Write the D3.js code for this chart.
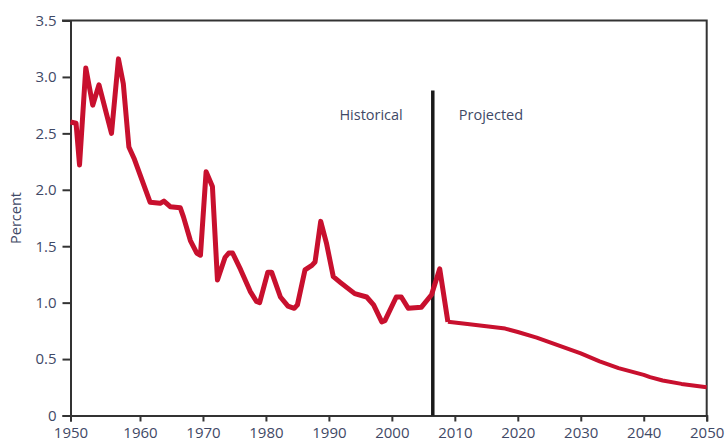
<!DOCTYPE html>
<meta charset="utf-8">
<script src="https://d3js.org/d3.v7.min.js"></script>
<style>
body {
  margin: 0;
  background: #fff;
  font-family: 'Open Sans', sans-serif;
}
.axis text {
  fill: #3f4966;
}
.axis .domain, .axis line {
  stroke: #333;
  stroke-width: 2;
}
</style>
<svg width="725" height="446"></svg>

<script>
// historical series (year, percent)
var histYears = [1950, 1950.8, 1951.3, 1952.2, 1953.2, 1954.1, 1955.9, 1956.9, 1957.6, 1958.4,
  1959.2, 1961.6, 1963.2, 1963.8, 1964.8, 1966.4, 1966.9, 1968.0, 1969.0, 1969.6,
  1970.5, 1971.5, 1972.3, 1973.5, 1974.1, 1974.7, 1976.0, 1977.5, 1978.5, 1979.0,
  1980.3, 1980.9, 1982.3, 1983.5, 1984.5, 1985.0, 1986.2, 1987.3, 1987.8, 1988.7,
  1989.6, 1990.7, 1991.8, 1994.1, 1996.0, 1997.1, 1998.4, 1998.9, 2000.7, 2001.5,
  2002.6, 2004.7, 2006.3, 2007.6, 2008.9];
var histValues = [2.60, 2.59, 2.22, 3.08, 2.75, 2.93, 2.50, 3.16, 2.94, 2.38,
  2.27, 1.89, 1.88, 1.90, 1.85, 1.84, 1.76, 1.55, 1.44, 1.42,
  2.16, 2.03, 1.20, 1.40, 1.44, 1.44, 1.29, 1.10, 1.01, 1.00,
  1.27, 1.27, 1.05, 0.97, 0.95, 0.98, 1.29, 1.33, 1.36, 1.72,
  1.53, 1.23, 1.18, 1.08, 1.05, 0.98, 0.83, 0.84, 1.05, 1.05,
  0.95, 0.96, 1.07, 1.30, 0.83];

// projected series
var projYears = [2008.9, 2012, 2015, 2018, 2020, 2023, 2026, 2030, 2033, 2036, 2040, 2041, 2043, 2046, 2050];
var projValues = [0.83, 0.81, 0.79, 0.77, 0.74, 0.69, 0.63, 0.55, 0.48, 0.42, 0.36, 0.34, 0.31, 0.28, 0.25];

// axis ticks
var xTicks = [1950, 1960, 1970, 1980, 1990, 2000, 2010, 2020, 2030, 2040, 2050];
var yTicks = [0, 0.5, 1.0, 1.5, 2.0, 2.5, 3.0, 3.5];

// divider between historical and projected
var dividerYear = 2006.5, dividerTop = 2.88;

var svg = d3.select("svg");

// the first decade is drawn a bit wider in the original
var x = d3.scaleLinear()
  .domain([1950, 1960, 2050])
  .range([70.5, 140, 706.7]);

var y = d3.scaleLinear()
  .domain([0, 3.5])
  .range([415.5, 20.5]);

var hist = histYears.map(function(d, i) { return [d, histValues[i]]; });
var proj = projYears.map(function(d, i) { return [d, projValues[i]]; });

var line = d3.line()
  .x(function(d) { return x(d[0]); })
  .y(function(d) { return y(d[1]); });

// frame top + right
svg.append("path")
  .attr("d", "M" + 62 + "," + y(3.5) + "H" + x(2050) + "V" + y(0))
  .attr("fill", "none")
  .attr("stroke", "#333")
  .attr("stroke-width", 2);

svg.append("g")	//x axis
  .attr("class", "axis")
  .attr("transform", "translate(0," + y(0) + ")")
  .call(d3.axisBottom(x).tickValues(xTicks).tickFormat(d3.format("d")).tickSizeOuter(0).tickSize(6).tickPadding(6))
  .attr("font-size", 15)
  .attr("font-family", "'Open Sans', sans-serif");

svg.append("g")	//y axis
  .attr("class", "axis")
  .attr("transform", "translate(" + x(1950) + ",0)")
  .call(d3.axisLeft(y).tickValues(yTicks).tickFormat(function(d) { return d === 0 ? "0" : d3.format(".1f")(d); }).tickSizeOuter(0).tickSize(8).tickPadding(6))
  .attr("font-size", 15)
  .attr("font-family", "'Open Sans', sans-serif");

// y label
svg.append("text")
  .attr("transform", "translate(21," + y(1.75) + ") rotate(-90)")
  .attr("text-anchor", "middle")
  .attr("fill", "#3f4966")
  .attr("font-size", 14.5)
  .text("Percent");

// divider
svg.append("line")
  .attr("x1", x(dividerYear)).attr("x2", x(dividerYear))
  .attr("y1", y(dividerTop)).attr("y2", y(0))
  .attr("stroke", "#1a1a1a")
  .attr("stroke-width", 3.5);

svg.append("text")
  .attr("x", x(dividerYear) - 30)
  .attr("y", 120)
  .attr("text-anchor", "end")
  .attr("fill", "#3f4966")
  .attr("font-size", 14.5)
  .text("Historical");

svg.append("text")
  .attr("x", x(dividerYear) + 26)
  .attr("y", 120)
  .attr("fill", "#3f4966")
  .attr("font-size", 14.5)
  .text("Projected");

// series lines
svg.append("path")
  .datum(hist)
  .attr("d", line)
  .attr("fill", "none")
  .attr("stroke", "#c8102e")
  .attr("stroke-width", 5)
  .attr("stroke-linejoin", "round");

svg.append("path")
  .datum(proj)
  .attr("d", line)
  .attr("fill", "none")
  .attr("stroke", "#c8102e")
  .attr("stroke-width", 4)
  .attr("stroke-linejoin", "round");
</script>
